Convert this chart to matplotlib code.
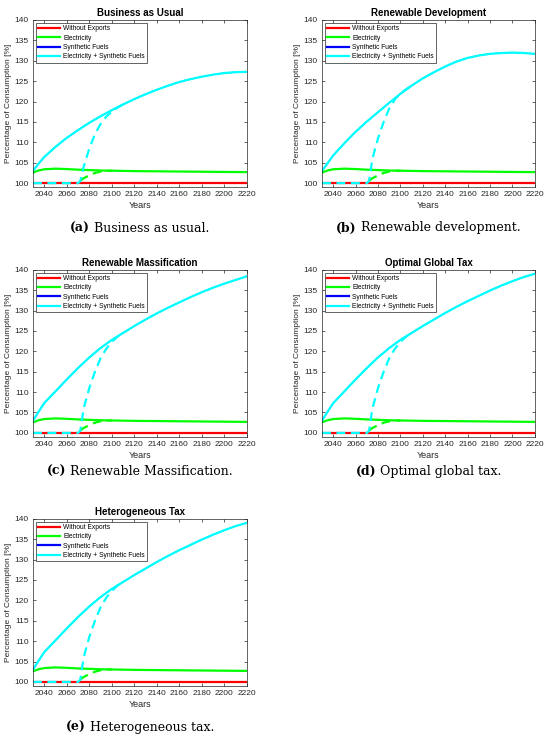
import matplotlib.pyplot as plt
from matplotlib.ticker import MultipleLocator

plt.rcParams['font.family'] = ['Liberation Sans', 'DejaVu Sans']

# years for the solid curves
years = [2030, 2035, 2040, 2050, 2060, 2070, 2080, 2090, 2100, 2110, 2120, 2130,
         2140, 2150, 2160, 2170, 2180, 2190, 2200, 2210, 2220]

without_exports = [100] * len(years)
electricity = [102.6, 103.1, 103.4, 103.55, 103.45, 103.3, 103.2, 103.1, 103.05, 103.0, 102.95,
               102.92, 102.9, 102.87, 102.85, 102.82, 102.8, 102.77, 102.75, 102.72, 102.7]

# electricity + synthetic fuels, one list per scenario
elec_synth_bau = [103.0, 104.8, 106.4, 108.9, 111.1, 113.0, 114.8, 116.4, 117.9, 119.3, 120.6,
                  121.8, 122.9, 123.9, 124.8, 125.5, 126.1, 126.6, 127.0, 127.2, 127.3]
elec_synth_rd = [103.0, 104.9, 106.8, 109.8, 112.6, 115.1, 117.4, 119.7, 121.9, 123.9, 125.7,
                 127.2, 128.6, 129.8, 130.7, 131.3, 131.7, 131.9, 132.0, 131.9, 131.7]
elec_synth_rm = [103.0, 105.2, 107.3, 110.2, 113.1, 115.9, 118.5, 120.8, 122.8, 124.5, 126.2,
                 127.8, 129.3, 130.7, 132.0, 133.3, 134.5, 135.6, 136.6, 137.5, 138.4]
elec_synth_ogt = [103.0, 105.2, 107.3, 110.2, 113.1, 115.9, 118.5, 120.8, 122.8, 124.5, 126.2,
                  127.8, 129.4, 130.9, 132.3, 133.6, 134.9, 136.1, 137.2, 138.2, 139.0]
elec_synth_ht = [103.0, 105.2, 107.3, 110.2, 113.1, 115.9, 118.5, 120.8, 122.8, 124.5, 126.2,
                 127.8, 129.4, 130.9, 132.3, 133.6, 134.9, 136.1, 137.2, 138.2, 139.0]

# delayed export start (dashed)
dash_years = [2030, 2040, 2050, 2060, 2070, 2072, 2075, 2080, 2085, 2090, 2095, 2100, 2105, 2110]
dash_bau = [100, 100, 100, 100, 100, 100.5, 104.0, 108.5, 112.0, 114.5, 116.3, 117.5, 118.5, 119.3]
dash_high = [100, 100, 100, 100, 100, 100.5, 106.0, 111.0, 115.0, 118.3, 120.6, 122.3, 123.6, 124.5]
dash_rd = [100, 100, 100, 100, 100, 100.5, 106.0, 111.0, 115.0, 118.3, 120.5, 122.0, 123.0, 123.9]
dash_elec_years = [2072, 2075, 2080, 2085, 2090, 2095, 2100]
dash_elec = [100.6, 101.2, 101.9, 102.5, 102.85, 103.0, 103.05]

titles = ['Business as Usual', 'Renewable Development', 'Renewable Massification',
          'Optimal Global Tax', 'Heterogeneous Tax']
captions = [('(a)', 'Business as usual.'), ('(b)', 'Renewable development.'),
            ('(c)', 'Renewable Massification.'), ('(d)', 'Optimal global tax.'),
            ('(e)', 'Heterogeneous tax.')]
solid_data = [elec_synth_bau, elec_synth_rd, elec_synth_rm, elec_synth_ogt, elec_synth_ht]
dash_data = [dash_bau, dash_rd, dash_high, dash_high, dash_high]

positions = [[0.06, 0.747, 0.389, 0.226], [0.5855, 0.747, 0.387, 0.226],
             [0.06, 0.4095, 0.389, 0.226], [0.5855, 0.4095, 0.387, 0.226],
             [0.06, 0.073, 0.389, 0.226]]
caption_y = [228, 228, 471, 471, 727]

fig = plt.figure(figsize=(5.5, 7.4), dpi=100)
lw = 1.6
dash = (0, (4, 2.5))
r = fig.canvas.get_renderer()
for i in range(5):
    ax = fig.add_axes(positions[i])
    ax.plot(years, without_exports, color='#ff0000', lw=lw, label='Without Exports')
    ax.plot(years, electricity, color='#00ff00', lw=lw, label='Electricity')
    # synthetic fuels sits under the combined curve
    ax.plot(years, solid_data[i], color='#0000ff', lw=0.8, label='Synthetic Fuels')
    ax.plot(years, solid_data[i], color='#00ffff', lw=lw, label='Electricity + Synthetic Fuels')
    ax.plot(dash_elec_years, dash_elec, color='#00ff00', lw=lw, ls=dash)
    ax.plot(dash_years, dash_data[i], color='#00ffff', lw=lw, ls=dash)

    ax.set_xlim(2030, 2220)
    ax.set_ylim(99, 140)
    ax.xaxis.set_major_locator(MultipleLocator(20))
    ax.yaxis.set_major_locator(MultipleLocator(5))
    ax.tick_params(direction='in', length=2, width=0.5, labelsize=6, colors='#262626',
                   top=True, right=True, pad=3)
    for s in ax.spines.values():
        s.set_linewidth(0.5)
        s.set_color('#262626')
    ax.set_title(titles[i], fontsize=7, fontweight='bold', pad=3)
    ax.set_xlabel('Years', fontsize=6.5, color='#262626', labelpad=2)
    ax.set_ylabel('Percentage of Consumption [%]', fontsize=6, color='#262626', labelpad=2)
    leg = ax.legend(loc='upper left', fontsize=4.8, handlelength=3.2, handletextpad=0.5,
                    borderpad=0.35, labelspacing=0.35, fancybox=False, framealpha=1,
                    edgecolor='#262626', borderaxespad=0.45)
    leg.get_frame().set_linewidth(0.5)
    for h in leg.get_lines():
        h.set_linewidth(1.6)

    # caption with bold letter
    cx = (positions[i][0] + positions[i][2] / 2) * 550
    lab, txt = captions[i]
    t1 = fig.text(0, 0, lab, fontsize=9, family='DejaVu Serif', fontweight='bold', va='center')
    t2 = fig.text(0, 0, ' ' + txt, fontsize=9, family='DejaVu Serif', va='center')
    w1 = t1.get_window_extent(r).width
    w2 = t2.get_window_extent(r).width
    x0 = cx - (w1 + w2) / 2
    t1.set_position((x0 / 550, 1 - caption_y[i] / 740))
    t2.set_position(((x0 + w1) / 550, 1 - caption_y[i] / 740))

fig.savefig('out.png', dpi=100)
